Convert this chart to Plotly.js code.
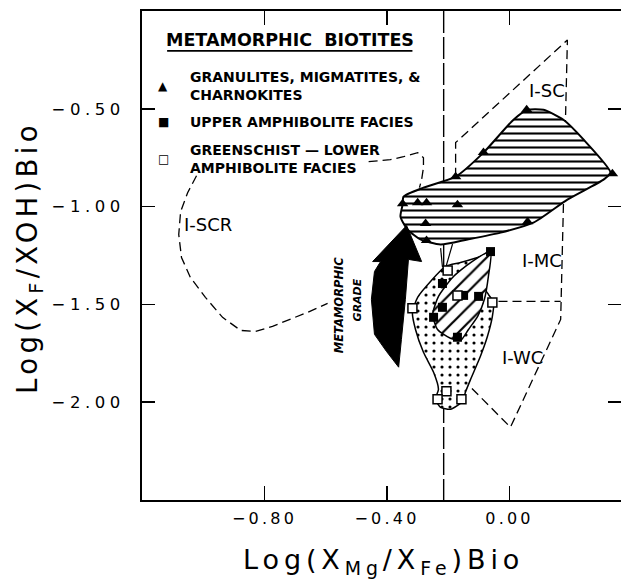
<!DOCTYPE html>
<html><head><meta charset="utf-8">
<script src="https://cdn.plot.ly/plotly-3.0.1.min.js"></script>
<style>html,body{margin:0;padding:0;overflow:hidden;background:#fff}</style>
</head><body><div id="chart" style="width:621px;height:579px"></div>
<script>
// ---- data ----
// Granulites, migmatites & charnockites (filled triangles)
const granX = [0.056, -0.085, -0.176, 0.336, -0.349, -0.300, -0.271, -0.170, -0.274, -0.271, 0.059];
const granY = [-0.505, -0.724, -0.847, -0.832, -0.985, -0.980, -0.980, -0.990, -1.087, -1.173, -1.077];
// Upper amphibolite facies (filled squares)
const uaX = [-0.062, -0.219, -0.150, -0.101, -0.219, -0.248, -0.170];
const uaY = [-1.230, -1.393, -1.454, -1.459, -1.515, -1.566, -1.668];
// Greenschist - lower amphibolite facies (open squares)
const gsX = [-0.202, -0.170, -0.056, -0.317, -0.206, -0.235, -0.157];
const gsY = [-1.327, -1.454, -1.490, -1.520, -1.944, -1.985, -1.985];

// Envelope of granulite field (horizontal hatching)
const granEnvX = [-0.346, -0.281, -0.176, -0.085, 0.013, 0.059, 0.111, 0.176, 0.242, 0.330, 0.307, 0.189, 0.078, -0.029, -0.137, -0.225, -0.291, -0.333, -0.356, -0.349, -0.346];
const granEnvY = [-0.949, -0.903, -0.847, -0.724, -0.556, -0.505, -0.505, -0.556, -0.658, -0.827, -0.862, -0.964, -1.082, -1.133, -1.168, -1.194, -1.168, -1.117, -1.051, -0.990, -0.949];
// Envelope of greenschist field (stippled)
const gsEnvX = [-0.209, -0.160, -0.095, -0.062, -0.072, -0.085, -0.069, -0.052, -0.056, -0.072, -0.095, -0.127, -0.144, -0.153, -0.193, -0.225, -0.242, -0.232, -0.248, -0.281, -0.307, -0.317, -0.300, -0.258, -0.209];
const gsEnvY = [-1.306, -1.286, -1.255, -1.230, -1.321, -1.408, -1.449, -1.490, -1.561, -1.663, -1.765, -1.883, -1.949, -1.995, -2.036, -2.026, -1.985, -1.934, -1.847, -1.745, -1.628, -1.541, -1.464, -1.383, -1.306];
// Envelope of upper amphibolite field (diagonal hatching)
const uaEnvX = [-0.062, -0.127, -0.186, -0.232, -0.251, -0.235, -0.193, -0.160, -0.134, -0.104, -0.082, -0.069, -0.062];
const uaEnvY = [-1.230, -1.286, -1.362, -1.459, -1.551, -1.628, -1.673, -1.684, -1.628, -1.561, -1.474, -1.357, -1.230];
// Short tie lines between the granulite and greenschist envelopes
const tieX = [-0.225, -0.219, null, -0.186, -0.206];
const tieY = [-1.212, -1.309, null, -1.191, -1.299];

// Dashed field boundaries
const scrX = [-1.022, -1.051, -1.074, -1.080, -1.071, -1.042, -0.993, -0.937, -0.878, -0.829, -0.774, -0.715, -0.660, -0.594, null, -0.372, -0.327];
const scrY = [-0.842, -0.929, -1.026, -1.143, -1.260, -1.362, -1.464, -1.566, -1.633, -1.638, -1.612, -1.577, -1.541, -1.495, null, -1.561, -1.526];
const leadX = [-0.460, -0.389, -0.346, -0.300, -0.281, -0.281, -0.287, -0.294];
const leadY = [-0.770, -0.760, -0.745, -0.724, -0.750, -0.801, -0.862, -0.903];
const fieldX = [-0.176, -0.176, 0.189, 0.167, 0.003, -0.127];
const fieldY = [-0.847, -0.673, -0.148, -1.577, -2.128, -1.923];
const mcwcX = [-0.036, 0.167];
const mcwcY = [-1.485, -1.485];
const vertX = [-0.215, -0.215];
const vertY = [0, -2.5];

// Metamorphic-grade arrow outline
const arrowX = [-0.336, -0.287, -0.330, -0.340, -0.353, -0.362, -0.402, -0.441, -0.451, -0.441, -0.421, -0.447, -0.336];
const arrowY = [-1.097, -1.281, -1.270, -1.474, -1.679, -1.821, -1.740, -1.653, -1.474, -1.332, -1.281, -1.281, -1.097];

// Axis ticks and titles
const xTickVals = [-0.8, -0.4, 0.0];
const xTickLabels = ["\u22120.80", "\u22120.40", "0.00"];
const yTickVals = [-0.5, -1.0, -1.5, -2.0];
const yTickLabels = ["\u22120.50", "\u22121.00", "\u22121.50", "\u22122.00"];
const xTitle = "Log(X<sub>Mg</sub>/X<sub>Fe</sub>)Bio";
const yTitle = "Log(X<sub>F</sub>/XOH)Bio";

// Legend texts and field labels
const legendTitle = "METAMORPHIC  BIOTITES";
const legendLabels = ["GRANULITES, MIGMATITES, &amp;<br>CHARNOKITES", "UPPER AMPHIBOLITE FACIES", "GREENSCHIST \u2014 LOWER<br>AMPHIBOLITE FACIES"];
const legendGlyphs = ["\u25B2", "\u25A0", "\u25A1"];
const fieldLabels = ["I-SCR", "I-SC", "I-MC", "I-WC"];
const fieldLabelX = [-0.984, 0.121, 0.105, 0.042];
const fieldLabelY = [-1.094, -0.404, -1.273, -1.774];

const FONT = "DejaVu Sans, sans-serif";
const sp = (t, s) => '<span style="letter-spacing:' + s + 'px">' + t + '</span>';
const dashLine = {color: 'black', width: 1.3, dash: '9px,5px'};

const traces = [
  {x: vertX, y: vertY, mode: 'lines', line: {color: 'black', width: 1.4, dash: '22px,4px'}, hoverinfo: 'skip'},
  {x: scrX, y: scrY, mode: 'lines', line: dashLine, hoverinfo: 'skip'},
  {x: leadX, y: leadY, mode: 'lines', line: dashLine, hoverinfo: 'skip'},
  {x: fieldX, y: fieldY, mode: 'lines', line: dashLine, hoverinfo: 'skip'},
  {x: mcwcX, y: mcwcY, mode: 'lines', line: dashLine, hoverinfo: 'skip'},
  {x: tieX, y: tieY, mode: 'lines', line: {color: 'black', width: 1.2}, hoverinfo: 'skip'},
  {x: gsEnvX, y: gsEnvY, mode: 'lines', fill: 'toself', line: {color: 'black', width: 1.5, shape: 'spline', smoothing: 0.6},
   fillpattern: {shape: '.', size: 8, solidity: 0.12, fgcolor: 'black', bgcolor: 'white'}, hoverinfo: 'skip'},
  {x: uaEnvX, y: uaEnvY, mode: 'lines', fill: 'toself', line: {color: 'black', width: 1.5, shape: 'spline', smoothing: 0.6},
   fillpattern: {shape: '/', size: 11, solidity: 0.2, fgcolor: 'black', bgcolor: 'white'}, hoverinfo: 'skip'},
  {x: granEnvX, y: granEnvY, mode: 'lines', fill: 'toself', line: {color: 'black', width: 2, shape: 'spline', smoothing: 0.6},
   fillpattern: {shape: '-', size: 7, solidity: 0.3, fgcolor: 'black', bgcolor: 'white'}, hoverinfo: 'skip'},
  {x: arrowX, y: arrowY, mode: 'lines', fill: 'toself', fillcolor: 'black', line: {color: 'black', width: 1}, hoverinfo: 'skip'},
  {x: granX, y: granY, mode: 'markers', marker: {symbol: 'triangle-up', size: 10, color: 'black'}},
  {x: uaX, y: uaY, mode: 'markers', marker: {symbol: 'square', size: 9, color: 'black'}},
  {x: gsX, y: gsY, mode: 'markers', marker: {symbol: 'square', size: 9, color: 'white', line: {color: 'black', width: 1.5}}}
];

const ann = [];
ann.push({x: -0.717, y: -0.148, xref: 'x', yref: 'y', text: '<b>' + legendTitle + '</b>', showarrow: false, font: {family: FONT, size: 17.5, color: 'black'}});
const legY = [-0.383, -0.567, -0.757];
for (let i = 0; i < 3; i++) {
  ann.push({x: -1.131, y: legY[i], xref: 'x', yref: 'y', text: legendGlyphs[i], showarrow: false, font: {family: FONT, size: 12, color: 'black'}});
  ann.push({x: -1.049, y: legY[i], xref: 'x', yref: 'y', xanchor: 'left', align: 'left', text: '<b>' + legendLabels[i] + '</b>', showarrow: false, font: {family: FONT, size: 14, color: 'black'}});
}
for (let i = 0; i < fieldLabels.length; i++) {
  ann.push({x: fieldLabelX[i], y: fieldLabelY[i], xref: 'x', yref: 'y', text: fieldLabels[i], showarrow: false, font: {family: FONT, size: 18, color: 'black'}});
}
ann.push({x: -0.556, y: -1.503, xref: 'x', yref: 'y', text: '<b><i>METAMORPHIC</i></b>', textangle: -90, showarrow: false, font: {family: FONT, size: 11.5, color: 'black'}});
ann.push({x: -0.497, y: -1.478, xref: 'x', yref: 'y', text: '<b><i>GRADE</i></b>', textangle: -90, showarrow: false, font: {family: FONT, size: 11, color: 'black'}});
// axis titles
ann.push({x: -0.234, y: 0.497, xref: 'paper', yref: 'paper', xanchor: 'center', yanchor: 'middle', text: sp(yTitle, 4.3), textangle: -90, showarrow: false, font: {family: FONT, size: 27.5, color: 'black'}});
ann.push({x: 0.504, y: -0.086, xref: 'paper', yref: 'paper', xanchor: 'center', yanchor: 'top', text: sp(xTitle, 4.9), showarrow: false, font: {family: FONT, size: 27, color: 'black'}});

const layout = {
  width: 621, height: 579,
  margin: {l: 142, r: 0, t: 11, b: 79},
  paper_bgcolor: 'white', plot_bgcolor: 'white',
  showlegend: false,
  xaxis: {
    range: [-1.2, 0.364], tickvals: xTickVals, ticktext: xTickLabels.map(t => sp(t, 3.2)),
    ticks: 'inside', ticklen: 14, tickwidth: 1.5, tickcolor: 'black',
    showline: true, linewidth: 2, linecolor: 'black', mirror: 'ticks',
    showgrid: false, zeroline: false, automargin: false, ticklabelstandoff: 3,
    tickfont: {family: FONT, size: 16, color: 'black'}
  },
  yaxis: {
    range: [-2.5, 0], tickvals: yTickVals, ticktext: yTickLabels.map(t => sp(t, 4.5)),
    ticks: 'inside', ticklen: 13, tickwidth: 1.5, tickcolor: 'black',
    showline: true, linewidth: 2, linecolor: 'black', mirror: 'ticks',
    showgrid: false, zeroline: false, automargin: false, ticklabelstandoff: 12,
    tickfont: {family: FONT, size: 16.5, color: 'black'}
  },
  shapes: [
    {type: 'line', xref: 'x', yref: 'y', x0: -1.118, x1: -0.317, y0: -0.204, y1: -0.204, line: {color: 'black', width: 1.8}}
  ],
  annotations: ann
};

Plotly.newPlot('chart', traces, layout, {staticPlot: true, displayModeBar: false});
</script></body></html>
